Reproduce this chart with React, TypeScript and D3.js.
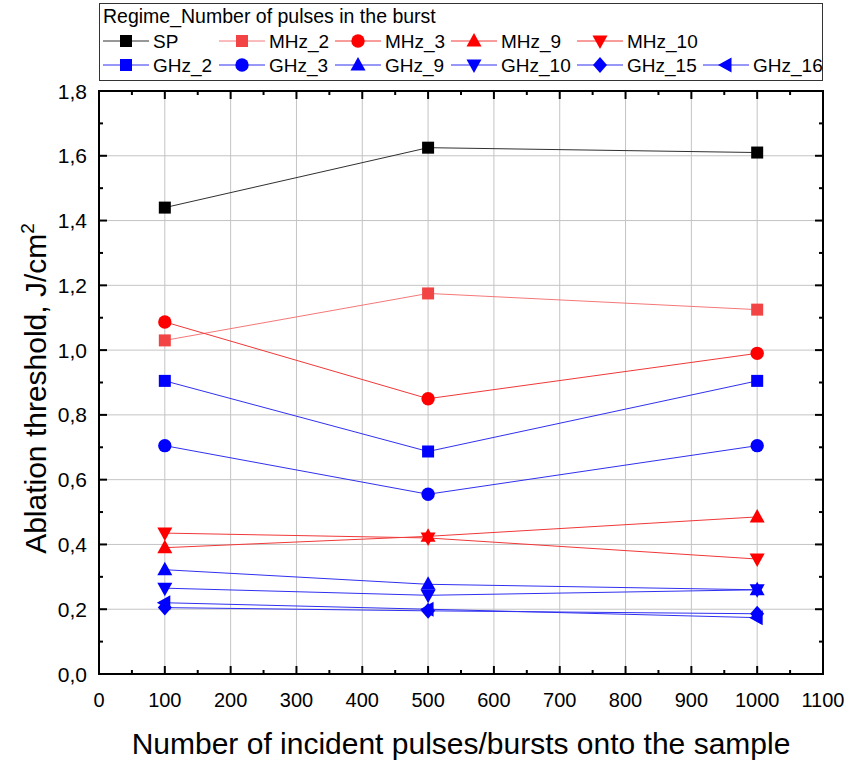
import React from "react";
import * as d3 from "d3";

const xValues = [100, 500, 1000];
const SP = [1.44, 1.625, 1.61];
const MHz_2 = [1.03, 1.175, 1.125];
const MHz_3 = [1.087, 0.85, 0.99];
const MHz_9 = [0.39, 0.425, 0.485];
const MHz_10 = [0.435, 0.42, 0.355];
const GHz_2 = [0.905, 0.687, 0.905];
const GHz_3 = [0.705, 0.555, 0.705];
const GHz_9 = [0.322, 0.277, 0.26];
const GHz_10 = [0.265, 0.243, 0.26];
const GHz_15 = [0.205, 0.195, 0.186];
const GHz_16 = [0.22, 0.2, 0.174];

const seriesNames = ["SP", "MHz_2", "MHz_3", "MHz_9", "MHz_10", "GHz_2", "GHz_3", "GHz_9", "GHz_10", "GHz_15", "GHz_16"];
const seriesValues = [SP, MHz_2, MHz_3, MHz_9, MHz_10, GHz_2, GHz_3, GHz_9, GHz_10, GHz_15, GHz_16];
const seriesShapes = ["square", "square", "circle", "up", "down", "square", "circle", "up", "down", "diamond", "left"];
const markerColors = ["#000000", "#F24444", "#FF0000", "#FF0000", "#FF0000", "#0000FF", "#0000FF", "#0000FF", "#0000FF", "#0000FF", "#0000FF"];
const lineColors = ["#303030", "#F47878", "#F03838", "#F03838", "#F03838", "#3030F0", "#3030F0", "#3030F0", "#3030F0", "#3030F0", "#3030F0"];

const xTicks = [0, 100, 200, 300, 400, 500, 600, 700, 800, 900, 1000, 1100];
const yTicks = [0, 0.2, 0.4, 0.6, 0.8, 1.0, 1.2, 1.4, 1.6, 1.8];
const xMinor = d3.range(50, 1100, 100);
const yMinor = [0.1, 0.3, 0.5, 0.7, 0.9, 1.1, 1.3, 1.5, 1.7];

const legendTitle = "Regime_Number of pulses in the burst";
const xTitle = "Number of incident pulses/bursts onto the sample";

const L = 99, R = 823, T = 91, B = 674;
const x = d3.scaleLinear().domain([0, 1100]).range([L, R]);
const y = d3.scaleLinear().domain([0, 1.8]).range([B, T]);
const FONT = "'Liberation Sans', Arial, sans-serif";

function Marker({ shape, cx, cy, color }: { shape: string; cx: number; cy: number; color: string }) {
  switch (shape) {
    case "square":
      return <rect x={cx - 6} y={cy - 6} width={12} height={12} fill={color} />;
    case "circle":
      return <circle cx={cx} cy={cy} r={6.7} fill={color} />;
    case "up":
      return <path d={`M${cx},${cy - 8}L${cx + 7.5},${cy + 5.5}L${cx - 7.5},${cy + 5.5}Z`} fill={color} />;
    case "down":
      return <path d={`M${cx},${cy + 8}L${cx + 7.5},${cy - 5.5}L${cx - 7.5},${cy - 5.5}Z`} fill={color} />;
    case "diamond":
      return <path d={`M${cx},${cy - 8}L${cx + 7},${cy}L${cx},${cy + 8}L${cx - 7},${cy}Z`} fill={color} />;
    case "left":
      return <path d={`M${cx - 8},${cy}L${cx + 5.5},${cy - 7.5}L${cx + 5.5},${cy + 7.5}Z`} fill={color} />;
    default:
      return null;
  }
}

export default function App() {
  const line = d3.line<number>().x((_, i) => x(xValues[i])).y((d) => y(d));
  const fmt = (v: number) => v.toFixed(1).replace(".", ",");
  const colStarts = [103, 219, 335, 451, 577, 703];
  const rowY = [41, 65];
  const legendItems = seriesNames.map((name, i) => {
    const row = i < 5 ? 0 : 1;
    const col = i < 5 ? i : i - 5;
    return { name, i, row, col };
  });

  return (
    <div style={{ position: "absolute", left: 0, top: 0 }}>
      <svg width={855} height={762} style={{ display: "block", background: "#fff" }} fontFamily={FONT}>
        {xTicks.slice(1, -1).map((t) => (
          <line key={"gx" + t} x1={x(t)} x2={x(t)} y1={T} y2={B} stroke="#c4c4c4" strokeWidth={1} />
        ))}
        {yTicks.slice(1, -1).map((t) => (
          <line key={"gy" + t} x1={L} x2={R} y1={y(t)} y2={y(t)} stroke="#c4c4c4" strokeWidth={1} />
        ))}
        {seriesValues.map((vals, si) => (
          <path key={"l" + si} d={line(vals) || ""} fill="none" stroke={lineColors[si]} strokeWidth={1} />
        ))}
        {seriesValues.map((vals, si) =>
          vals.map((v, i) => (
            <Marker key={"m" + si + "_" + i} shape={seriesShapes[si]} cx={x(xValues[i])} cy={y(v)} color={markerColors[si]} />
          ))
        )}
        <rect x={L} y={T} width={R - L} height={B - T} fill="none" stroke="#000" strokeWidth={2} />
        {xTicks.map((t) => (
          <g key={"xt" + t}>
            <line x1={x(t)} x2={x(t)} y1={B} y2={B - 8} stroke="#000" strokeWidth={2} />
            <line x1={x(t)} x2={x(t)} y1={T} y2={T + 8} stroke="#000" strokeWidth={2} />
          </g>
        ))}
        {xMinor.map((t) => (
          <g key={"xm" + t}>
            <line x1={x(t)} x2={x(t)} y1={B} y2={B - 4} stroke="#000" strokeWidth={2} />
            <line x1={x(t)} x2={x(t)} y1={T} y2={T + 4} stroke="#000" strokeWidth={2} />
          </g>
        ))}
        {yTicks.map((t) => (
          <g key={"yt" + t}>
            <line x1={L} x2={L + 8} y1={y(t)} y2={y(t)} stroke="#000" strokeWidth={2} />
            <line x1={R} x2={R - 8} y1={y(t)} y2={y(t)} stroke="#000" strokeWidth={2} />
          </g>
        ))}
        {yMinor.map((t) => (
          <g key={"ym" + t}>
            <line x1={L} x2={L + 4} y1={y(t)} y2={y(t)} stroke="#000" strokeWidth={2} />
            <line x1={R} x2={R - 4} y1={y(t)} y2={y(t)} stroke="#000" strokeWidth={2} />
          </g>
        ))}
        {xTicks.map((t) => (
          <text key={"xl" + t} x={x(t)} y={707} textAnchor="middle" fontSize={20} fill="#000">
            {t}
          </text>
        ))}
        {yTicks.map((t) => (
          <text key={"yl" + t} x={87} y={y(t)} dy="0.36em" textAnchor="end" fontSize={21} fill="#000">
            {fmt(t)}
          </text>
        ))}
        <text x={(L + R) / 2} y={754} textAnchor="middle" fontSize={30} fill="#000">
          {xTitle}
        </text>
        <text transform={`translate(46,${(T + B) / 2 + 6}) rotate(-90)`} textAnchor="middle" fontSize={30} fill="#000">
          Ablation threshold, J/cm
          <tspan fontSize={19} dy={-12}>2</tspan>
        </text>
        <rect x={99.5} y={3.5} width={723} height={77} fill="#fff" stroke="#333" strokeWidth={1} />
        <text x={103} y={23} fontSize={19.5} fill="#000">
          {legendTitle}
        </text>
        {legendItems.map(({ name, i, row, col }) => {
          const sx = colStarts[col];
          const cy = rowY[row];
          return (
            <g key={"lg" + name}>
              <line x1={sx} x2={sx + 46} y1={cy} y2={cy} stroke={lineColors[i]} strokeWidth={1} />
              <Marker shape={seriesShapes[i]} cx={sx + 23} cy={cy} color={markerColors[i]} />
              <text x={sx + 50} y={cy + 7} fontSize={19} fill="#000">
                {name}
              </text>
            </g>
          );
        })}
      </svg>
    </div>
  );
}
